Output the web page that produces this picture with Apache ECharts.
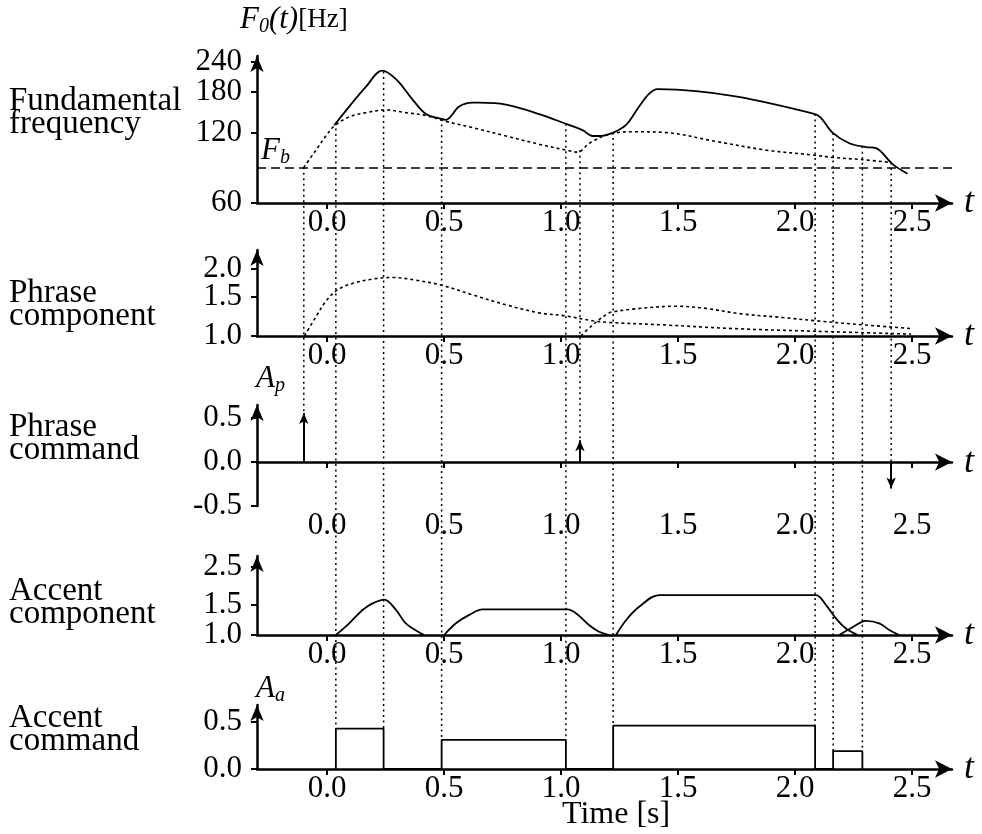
<!DOCTYPE html>
<html>
<head>
<meta charset="utf-8">
<script src="https://cdn.jsdelivr.net/npm/echarts@6/dist/echarts.min.js"></script>
<style>
  html, body { margin: 0; padding: 0; background: #fff; }
  #chart { width: 982px; height: 834px; }
</style>
</head>
<body>
<div id="chart"></div>
<script>
// ticks shared by all five time axes
const TIME_TICKS = [0, 0.5, 1.0, 1.5, 2.0, 2.5];

// F0 contour [t (s), Hz] and the phrase-level contour under it
const F0_CONTOUR = [
  [0.03, 129], [0.094, 155], [0.165, 188], [0.235, 221], [0.294, 203], [0.365, 166],
  [0.422, 144], [0.479, 138], [0.507, 136], [0.564, 155], [0.621, 161], [0.65, 161],
  [0.764, 158], [0.906, 144], [1.027, 130], [1.091, 123], [1.134, 116], [1.162, 116],
  [1.222, 120], [1.276, 129], [1.333, 155], [1.376, 176], [1.412, 184], [2.085, 144],
  [2.159, 120], [2.231, 108], [2.302, 104], [2.345, 103], [2.416, 88], [2.48, 80]
];
const PHRASE_CONTOUR = [
  [-0.101, 85], [-0.048, 101], [-0.006, 116], [0.03, 128], [0.094, 140], [0.165, 146],
  [0.251, 150], [0.336, 146], [0.422, 142], [0.507, 134], [0.621, 126], [0.764, 116],
  [0.906, 107], [1.02, 101], [1.07, 99], [1.12, 108], [1.205, 118], [1.305, 121],
  [1.448, 120], [1.661, 110], [1.875, 101], [2.085, 96], [2.159, 94], [2.283, 92], [2.412, 89.4]
];
const FB = 85;
const F0_TICKS = [60, 120, 180, 240];

// phrase components
const PHRASE_COMP_1 = [
  [-0.097, 1.0], [-0.048, 1.22], [-0.006, 1.43], [0.044, 1.61], [0.108, 1.72], [0.194, 1.80],
  [0.279, 1.83], [0.379, 1.78], [0.488, 1.69], [0.621, 1.53], [0.764, 1.38], [0.906, 1.27],
  [1.02, 1.23], [1.134, 1.17], [1.205, 1.15], [1.448, 1.12], [1.732, 1.08], [2.089, 1.05], [2.495, 1.02]
];
const PHRASE_COMP_2 = [
  [1.084, 1.0], [1.134, 1.12], [1.205, 1.27], [1.234, 1.29], [1.305, 1.32], [1.49, 1.36],
  [1.618, 1.33], [1.761, 1.26], [1.946, 1.21], [2.089, 1.17], [2.302, 1.12], [2.495, 1.08]
];
const PHRASE_COMP_TICKS = [1.0, 1.5, 2.0];

// phrase commands
const PHRASE_CMD_T = [-0.10, 1.08, 2.41];
const PHRASE_CMD_AMP = [0.56, 0.25, -0.30];
const PHRASE_CMD_TICKS = [-0.5, 0.0, 0.5];

// accent components
const ACCENT_COMP_1 = [
  [0.037, 1.0], [0.094, 1.17], [0.151, 1.40], [0.194, 1.53], [0.244, 1.61],
  [0.294, 1.40], [0.336, 1.17], [0.407, 1.01], [0.415, 1.0]
];
const ACCENT_COMP_2 = [
  [0.5, 1.0], [0.55, 1.17], [0.607, 1.31], [0.664, 1.41], [1.027, 1.41],
  [1.063, 1.34], [1.12, 1.14], [1.162, 1.045], [1.205, 1.0]
];
const ACCENT_COMP_3 = [
  [1.234, 1.0], [1.277, 1.22], [1.333, 1.46], [1.419, 1.71], [2.088, 1.71],
  [2.131, 1.50], [2.174, 1.25], [2.217, 1.09], [2.266, 1.0]
];
const ACCENT_COMP_4 = [
  [2.188, 1.0], [2.245, 1.11], [2.302, 1.21], [2.359, 1.17], [2.402, 1.07], [2.444, 1.0]
];
const ACCENT_COMP_TICKS = [1.0, 1.5, 2.5];

// accent commands
const ACCENT_ON = [0.037, 0.489, 1.222, 2.162];
const ACCENT_OFF = [0.241, 1.02, 2.085, 2.287];
const ACCENT_AMP = [0.43, 0.31, 0.46, 0.19];
const ACCENT_CMD_TICKS = [0.0, 0.5];

const FONT = 'Liberation Serif';
const ln = Math.log;
const BLACK = '#000';

// layout of the five stacked panels (px)
const GRIDS = [
  { top: 56, bottom: 631 },
  { top: 250, bottom: 498 },
  { top: 405, bottom: 328 },
  { top: 556, bottom: 199 },
  { top: 705, bottom: 65 }
];

const tickLabel = { fontFamily: FONT, fontSize: 31, color: BLACK };
const subRich = {
  i: { fontFamily: FONT, fontStyle: 'italic', fontWeight: 'normal', fontSize: 31, color: BLACK, lineHeight: 34, verticalAlign: 'middle' },
  s: { fontFamily: FONT, fontStyle: 'italic', fontWeight: 'normal', fontSize: 20, color: BLACK, lineHeight: 14, verticalAlign: 'bottom' },
  n: { fontFamily: FONT, fontWeight: 'normal', fontSize: 27, color: BLACK, lineHeight: 34, verticalAlign: 'middle' }
};

function xAxisFor(i) {
  return {
    gridIndex: i, type: 'value', min: -0.3, max: 2.67,
    name: 't', nameLocation: 'end', nameGap: 12,
    nameTextStyle: { fontFamily: FONT, fontStyle: 'italic', fontSize: 36, color: BLACK },
    axisLine: { onZero: true, symbol: ['none', 'arrow'], symbolSize: [13, 17], lineStyle: { color: BLACK, width: 2.5 } },
    axisTick: { customValues: TIME_TICKS, length: 6, lineStyle: { color: BLACK, width: 2 } },
    axisLabel: { customValues: TIME_TICKS, formatter: v => v.toFixed(1), margin: 4, ...tickLabel },
    splitLine: { show: false }
  };
}

// main y axis of a panel: line, arrow, every tick, labels that do not collide
function yAxisFor(i, min, max, ticks, labels, fmt) {
  return {
    gridIndex: i, type: 'value', position: 'left', offset: 0, min, max,
    axisLine: { show: true, onZero: false, symbol: ['none', 'arrow'], symbolSize: [10, 16], lineStyle: { color: BLACK, width: 2.5 } },
    axisTick: { show: true, customValues: ticks, length: 6, lineStyle: { color: BLACK, width: 2 } },
    axisLabel: { customValues: labels, formatter: fmt, margin: 15, showMinLabel: true, showMaxLabel: true, ...tickLabel },
    splitLine: { show: false }
  };
}
// companion axis carrying the tick label that sits too close to its neighbours
function yLabelAxisFor(i, min, max, labels, fmt) {
  return {
    gridIndex: i, type: 'value', position: 'left', offset: 0, min, max,
    axisLine: { show: false, onZero: false },
    axisTick: { show: false },
    axisLabel: { customValues: labels, formatter: fmt, margin: 15, showMinLabel: true, showMaxLabel: true, ...tickLabel },
    splitLine: { show: false }
  };
}

const logPairs = pairs => pairs.map(([t, v]) => [t, ln(v)]);

function curve(i, data, dotted) {
  return {
    type: 'line', xAxisIndex: i, yAxisIndex: i, data,
    symbol: 'none', smooth: 0.35, silent: true,
    lineStyle: dotted ? { color: BLACK, width: 1.6, type: [3, 3] } : { color: BLACK, width: 1.8 },
    z: 3
  };
}

// accent command boxes as one polyline (baseline runs hide under the axis)
const accentBoxes = [];
ACCENT_ON.forEach((on, k) => {
  accentBoxes.push([on, 0], [on, ACCENT_AMP[k]], [ACCENT_OFF[k], ACCENT_AMP[k]], [ACCENT_OFF[k], 0]);
});

const leftLabels = [
  ['Fundamental\nfrequency', 90],
  ['Phrase\ncomponent', 282],
  ['Phrase\ncommand', 416],
  ['Accent\ncomponent', 580],
  ['Accent\ncommand', 707]
];

const hz = v => String(Math.round(Math.exp(v)));
const ratio = v => Math.exp(v).toFixed(1);
const amp = v => v.toFixed(1);
const F0_RANGE = [ln(60), ln(255)];
const PC_RANGE = [0, ln(2.43)];
const AC_RANGE = [0, ln(2.89)];

const option = {
  backgroundColor: '#fff',
  animation: false,
  title: [
    ...leftLabels.map(([text, top]) => ({
      text, left: 9, top, padding: 0,
      textStyle: { fontFamily: FONT, fontSize: 33, fontWeight: 'normal', color: BLACK, lineHeight: 23 }
    })),
    { text: '{i|F}{s|0}{i|(t)}{n|[Hz]}', left: 240, top: 3, padding: 0, textStyle: { fontWeight: 'normal', rich: subRich } },
    { text: '{i|A}{s|p}', left: 256, top: 362, padding: 0, textStyle: { fontWeight: 'normal', rich: subRich } },
    { text: '{i|A}{s|a}', left: 256, top: 672, padding: 0, textStyle: { fontWeight: 'normal', rich: subRich } },
    { text: 'Time [s]', left: 562, top: 799, padding: 0,
      textStyle: { fontFamily: FONT, fontSize: 32, fontWeight: 'normal', color: BLACK } }
  ],
  grid: GRIDS.map(g => ({ left: 257, right: 30, top: g.top, bottom: g.bottom, outerBoundsMode: 'none', containLabel: false })),
  xAxis: [0, 1, 2, 3, 4].map(xAxisFor),
  yAxis: [
    yAxisFor(0, F0_RANGE[0], F0_RANGE[1], F0_TICKS.map(ln), [60, 120, 240].map(ln), hz),
    yAxisFor(1, PC_RANGE[0], PC_RANGE[1], PHRASE_COMP_TICKS.map(ln), [1.0, 2.0].map(ln), ratio),
    yAxisFor(2, -0.5, 0.65, PHRASE_CMD_TICKS, PHRASE_CMD_TICKS, amp),
    yAxisFor(3, AC_RANGE[0], AC_RANGE[1], ACCENT_COMP_TICKS.map(ln), [1.0, 2.5].map(ln), ratio),
    yAxisFor(4, 0, 0.68, ACCENT_CMD_TICKS, ACCENT_CMD_TICKS, amp),
    yLabelAxisFor(0, F0_RANGE[0], F0_RANGE[1], [ln(180)], hz),
    yLabelAxisFor(1, PC_RANGE[0], PC_RANGE[1], [ln(1.5)], ratio),
    yLabelAxisFor(3, AC_RANGE[0], AC_RANGE[1], [ln(1.5)], ratio)
  ],
  series: [
    {
      ...curve(0, logPairs(F0_CONTOUR), false),
      markLine: {
        silent: true, symbol: 'none', animation: false,
        lineStyle: { color: BLACK, width: 1.5, type: [9, 5] },
        label: { show: true, position: 'insideStartTop', distance: [4, 0], formatter: '{i|F}{s|b}', rich: subRich },
        data: [{ yAxis: ln(FB) }]
      }
    },
    curve(0, logPairs(PHRASE_CONTOUR), true),
    curve(1, logPairs(PHRASE_COMP_1), true),
    curve(1, logPairs(PHRASE_COMP_2), true),
    {
      type: 'line', xAxisIndex: 2, yAxisIndex: 2, silent: true,
      data: PHRASE_CMD_T.map(t => [t, 0]), symbol: 'none', lineStyle: { opacity: 0 },
      markLine: {
        silent: true, animation: false, symbol: ['none', 'arrow'], symbolSize: [7, 11],
        lineStyle: { color: BLACK, width: 2, type: 'solid' },
        label: { show: false },
        data: PHRASE_CMD_T.map((t, k) => [{ coord: [t, 0] }, { coord: [t, PHRASE_CMD_AMP[k]] }])
      }
    },
    curve(3, logPairs(ACCENT_COMP_1), false),
    curve(3, logPairs(ACCENT_COMP_2), false),
    curve(3, logPairs(ACCENT_COMP_3), false),
    curve(3, logPairs(ACCENT_COMP_4), false),
    {
      type: 'line', xAxisIndex: 4, yAxisIndex: 4, silent: true, data: accentBoxes,
      symbol: 'none', lineStyle: { color: BLACK, width: 1.8 }, z: 3
    }
  ]
};

const chart = echarts.init(document.getElementById('chart'), null, { renderer: 'canvas' });
chart.setOption(option);

// dotted guides: from the contour in the F0 panel down to each command
function interp(pairs, t) {
  for (let k = 1; k < pairs.length; k++) {
    if (t <= pairs[k][0]) {
      const [t0, v0] = pairs[k - 1];
      const [t1, v1] = pairs[k];
      return v0 + (v1 - v0) * (t - t0) / (t1 - t0);
    }
  }
  return pairs[pairs.length - 1][1];
}

const guides = [];
ACCENT_ON.concat(ACCENT_OFF).forEach((t, k) => {
  const a = ACCENT_AMP[k % ACCENT_AMP.length];
  guides.push({ t, top: [0, ln(interp(F0_CONTOUR, t))], bottom: [4, a] });
});
PHRASE_CMD_T.forEach((t, k) => {
  guides.push({ t, top: [0, ln(interp(PHRASE_CONTOUR, t))], bottom: [2, Math.max(PHRASE_CMD_AMP[k], 0)] });
});

const graphic = guides.map(g => {
  const p1 = chart.convertToPixel({ xAxisIndex: g.top[0], yAxisIndex: g.top[0] }, [g.t, g.top[1]]);
  const p2 = chart.convertToPixel({ xAxisIndex: g.bottom[0], yAxisIndex: g.bottom[0] }, [g.t, g.bottom[1]]);
  return {
    type: 'line', silent: true, z: 1,
    shape: { x1: p1[0], y1: p1[1], x2: p2[0], y2: p2[1] },
    style: { stroke: BLACK, lineWidth: 1.5, lineDash: [2, 3.5] }
  };
});
chart.setOption({ graphic });
</script>
</body>
</html>
